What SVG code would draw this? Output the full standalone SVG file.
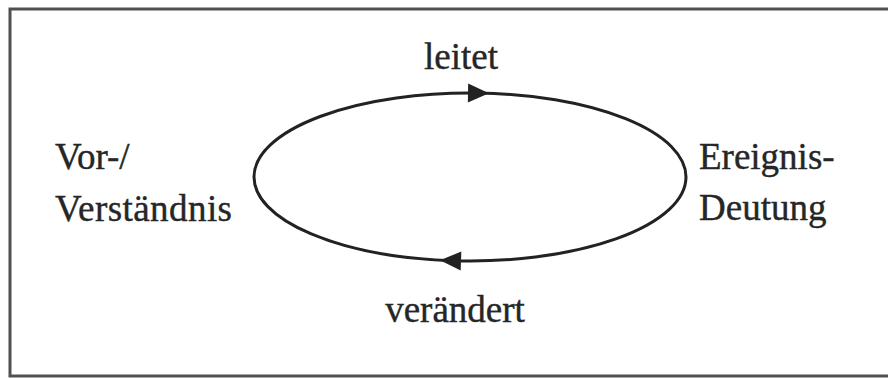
<svg xmlns="http://www.w3.org/2000/svg" width="888" height="378" viewBox="0 0 888 378">
  <style>
    .lbl { font-family: "Liberation Serif", "DejaVu Serif", serif; font-size: 37px; fill: #262626; stroke: #262626; stroke-width: 0.4; }
    .frame { fill: #ffffff; stroke: #505050; stroke-width: 3; }
    .cycle { fill: none; stroke: #222222; stroke-width: 3; }
  </style>
  <defs>
    <marker id="arrow" viewBox="-12 -11 24 22" markerWidth="24" markerHeight="22" refX="0" refY="0" orient="auto" markerUnits="userSpaceOnUse">
      <path d="M-10,-9.5 L11,0 L-10,9.5 z" fill="#222222"/>
    </marker>
  </defs>
  <rect x="0" y="0" width="888" height="378" fill="#ffffff"/>
  <rect class="frame" x="10" y="9" width="890" height="367"/>
  <g id="connectors">
    <path id="leitet-arc" class="cycle" d="M254,177 A216,84 0 0 1 478,93.06 A216,84 0 0 1 686,177" marker-mid="url(#arrow)"/>
    <path id="veraendert-arc" class="cycle" d="M686,177 A216,84 0 0 1 451,260.67 A216,84 0 0 1 254,177" marker-mid="url(#arrow)"/>
  </g>
  <g id="node-verstaendnis">
    <text class="lbl" x="55" y="169">Vor-/</text>
    <text class="lbl" x="55" y="221" textLength="177" lengthAdjust="spacing">Verständnis</text>
  </g>
  <g id="node-ereignisdeutung">
    <text class="lbl" x="699" y="169">Ereignis-</text>
    <text class="lbl" x="699" y="220">Deutung</text>
  </g>
  <g id="label-leitet">
    <text class="lbl" x="461" y="69" text-anchor="middle">leitet</text>
  </g>
  <g id="label-veraendert">
    <text class="lbl" x="455" y="322" text-anchor="middle">verändert</text>
  </g>
</svg>
